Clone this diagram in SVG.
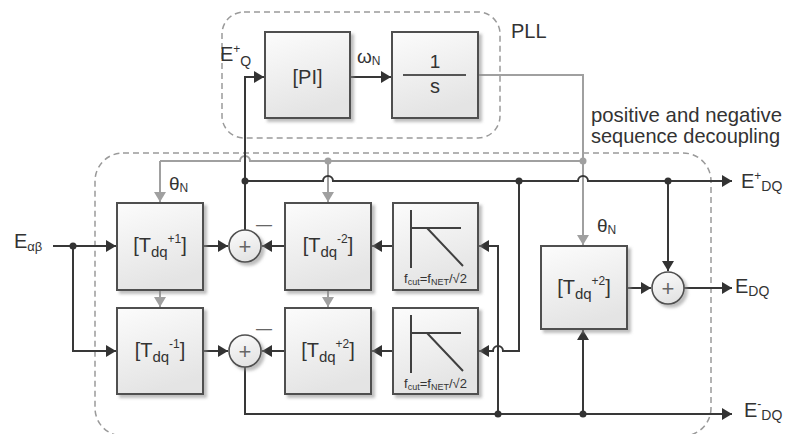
<svg xmlns="http://www.w3.org/2000/svg" width="788" height="434" viewBox="0 0 788 434">
<defs>
<linearGradient id="bg" x1="0" y1="0" x2="0.3" y2="1">
<stop offset="0" stop-color="#fcfcfc"/>
<stop offset="1" stop-color="#e4e4e4"/>
</linearGradient>
<filter id="sh" x="-20%" y="-20%" width="150%" height="150%">
<feDropShadow dx="3" dy="3" stdDeviation="1.5" flood-color="#888" flood-opacity="0.55"/>
</filter>
<marker id="ab" markerUnits="userSpaceOnUse" markerWidth="11" markerHeight="12" refX="10" refY="6" orient="auto">
<path d="M0,0 L10,6 L0,12 z" fill="#333"/>
</marker>
<marker id="ag" markerUnits="userSpaceOnUse" markerWidth="11" markerHeight="12" refX="10" refY="6" orient="auto">
<path d="M0,0 L10,6 L0,12 z" fill="#a0a0a0"/>
</marker>
</defs>
<style>
.box{fill:url(#bg);stroke:#505050;stroke-width:2;filter:url(#sh)}
.sum{fill:url(#bg);stroke:#505050;stroke-width:1.6;filter:url(#sh)}
.dash{fill:none;stroke:#9a9a9a;stroke-width:1.5;stroke-dasharray:6 4}
.bl{fill:none;stroke:#383838;stroke-width:2}
.gr{fill:none;stroke:#a0a0a0;stroke-width:2}
.ba{marker-end:url(#ab)}
.ga{marker-end:url(#ag)}
.dot{fill:#333}
.gdot{fill:#a0a0a0}
text{font-family:"Liberation Sans",Arial,sans-serif;fill:#333}
.lbl{font-size:20px}
.bt{font-size:20px;text-anchor:middle}
.ft{font-size:13px;text-anchor:middle}
.pl{font-size:22px;fill:#666;text-anchor:middle}
.mn{font-size:16px;fill:#666}
.inner{stroke:#404040;stroke-width:2;fill:none}
</style>

<!-- dashed groupings -->
<g id="pll-frame">
<rect class="dash" x="222" y="12" width="278" height="126" rx="22"/>
<text class="lbl" x="511" y="38">PLL</text>
</g>
<g id="decoupling-frame">
<rect class="dash" x="95" y="153" width="616" height="283" rx="28"/>
<text font-size="21" x="591" y="122" textLength="191" lengthAdjust="spacingAndGlyphs">positive and negative</text>
<text font-size="21" x="591" y="143" textLength="189" lengthAdjust="spacingAndGlyphs">sequence decoupling</text>
</g>

<!-- connectors -->
<g id="connectors">
<path class="gr" d="M160,161 H240 A5,5 0 0 1 250,161 H583 V75 H478"/>
<path class="gr ga" d="M160,161 V202"/>
<path class="gr ga" d="M328,161 V202"/>
<path class="gr ga" d="M583,161 V245"/>
<path class="gr ga" d="M160,291 V307"/>
<path class="gr ga" d="M328,291 V307"/>
<circle class="gdot" cx="328" cy="161" r="3.5"/>
<circle class="gdot" cx="583" cy="161" r="3.5"/>

<path class="bl ba" d="M245,230 V77 H264"/>
<path class="bl ba" d="M350,77 H391"/>
<path class="bl ba" d="M245,181 H323 A5,5 0 0 1 333,181 H578 A5,5 0 0 1 588,181 H732"/>
<path class="bl ba" d="M53,246 H116"/>
<path class="bl ba" d="M73,246 V351 H116"/>
<path class="bl ba" d="M203,246 H228"/>
<path class="bl ba" d="M203,351 H228"/>
<path class="bl ba" d="M285,246 H262"/>
<path class="bl ba" d="M285,351 H262"/>
<path class="bl ba" d="M393,246 H372"/>
<path class="bl ba" d="M393,351 H372"/>
<path class="bl ba" d="M498,414 V246 H479"/>
<path class="bl ba" d="M519,181 V351 H503 A5,5 0 0 0 493,351 H479"/>
<path class="bl ba" d="M245,367 V414 H732"/>
<path class="bl ba" d="M583,414 V330"/>
<path class="bl ba" d="M627,288 H651"/>
<path class="bl ba" d="M668,181 V271"/>
<path class="bl ba" d="M684,288 H732"/>
<circle class="dot" cx="73" cy="246" r="3.5"/>
<circle class="dot" cx="245" cy="181" r="3.5"/>
<circle class="dot" cx="519" cy="181" r="3.5"/>
<circle class="dot" cx="668" cy="181" r="3.5"/>
<circle class="dot" cx="498" cy="414" r="3.5"/>
<circle class="dot" cx="583" cy="414" r="3.5"/>
</g>

<!-- PLL nodes -->
<g id="pi">
<rect class="box" x="265" y="32" width="85" height="86"/>
<text class="bt" x="307.5" y="84">[PI]</text>
</g>
<g id="integrator">
<rect class="box" x="392" y="32" width="86" height="86"/>
<text class="bt" x="435" y="68" style="font-size:19px">1</text>
<line x1="403" y1="75" x2="466" y2="75" stroke="#555" stroke-width="2"/>
<text class="bt" x="435" y="93">s</text>
</g>

<!-- decoupling nodes -->
<g id="tdq-p1">
<rect class="box" x="117" y="203" width="86" height="87"/>
<text class="bt" x="160" y="252">[T<tspan font-size="15" dy="5">dq</tspan><tspan font-size="12" dy="-14">+1</tspan><tspan dy="9">]</tspan></text>
</g>
<g id="tdq-m1">
<rect class="box" x="117" y="308" width="86" height="86"/>
<text class="bt" x="160" y="357">[T<tspan font-size="15" dy="5">dq</tspan><tspan font-size="12" dy="-14">-1</tspan><tspan dy="9">]</tspan></text>
</g>
<g id="sum-top">
<circle class="sum" cx="245" cy="246" r="16"/>
<text class="pl" x="245" y="254">+</text>
<text class="mn" x="256" y="230">—</text>
</g>
<g id="sum-bottom">
<circle class="sum" cx="245" cy="351" r="16"/>
<text class="pl" x="245" y="359">+</text>
<text class="mn" x="256" y="334">—</text>
</g>
<g id="tdq-m2">
<rect class="box" x="285" y="203" width="86" height="87"/>
<text class="bt" x="328" y="252">[T<tspan font-size="15" dy="5">dq</tspan><tspan font-size="12" dy="-14">-2</tspan><tspan dy="9">]</tspan></text>
</g>
<g id="tdq-p2-left">
<rect class="box" x="285" y="308" width="86" height="86"/>
<text class="bt" x="328" y="357">[T<tspan font-size="15" dy="5">dq</tspan><tspan font-size="12" dy="-14">+2</tspan><tspan dy="9">]</tspan></text>
</g>
<g id="filter-top">
<rect class="box" x="393" y="203" width="85" height="87"/>
<path class="inner" d="M411,210 V268 M411,228 H461 M427,228 L463,266"/>
<text class="ft" x="435.5" y="283">f<tspan font-size="9" dy="2">cut</tspan><tspan dy="-2">=f</tspan><tspan font-size="9" dy="2">NET</tspan><tspan dy="-2">/√2</tspan></text>
</g>
<g id="filter-bottom">
<rect class="box" x="393" y="308" width="85" height="86"/>
<path class="inner" d="M411,315 V373 M411,333 H461 M427,333 L463,371"/>
<text class="ft" x="435.5" y="388">f<tspan font-size="9" dy="2">cut</tspan><tspan dy="-2">=f</tspan><tspan font-size="9" dy="2">NET</tspan><tspan dy="-2">/√2</tspan></text>
</g>
<g id="tdq-p2-right">
<rect class="box" x="541" y="246" width="86" height="83"/>
<text class="bt" x="584" y="294">[T<tspan font-size="15" dy="5">dq</tspan><tspan font-size="12" dy="-14">+2</tspan><tspan dy="9">]</tspan></text>
</g>
<g id="sum-right">
<circle class="sum" cx="668" cy="288" r="16"/>
<text class="pl" x="668" y="296">+</text>
</g>

<!-- labels -->
<g id="labels">
<text class="lbl" x="14" y="248">E<tspan font-size="13" dy="3">αβ</tspan></text>
<text class="lbl" x="220" y="61">E<tspan font-size="12" dy="-8">+</tspan><tspan font-size="14" dy="13">Q</tspan></text>
<text font-size="19" x="357" y="63">ω<tspan font-size="12" dy="2">N</tspan></text>
<text font-size="19" x="169" y="190">θ<tspan font-size="12" dy="2">N</tspan></text>
<text font-size="19" x="597" y="232">θ<tspan font-size="12" dy="2">N</tspan></text>
<text class="lbl" x="741" y="188">E<tspan font-size="12" dy="-8">+</tspan><tspan font-size="14" dy="11">DQ</tspan></text>
<text class="lbl" x="735" y="293">E<tspan font-size="14" dy="3">DQ</tspan></text>
<text class="lbl" x="744" y="417">E<tspan font-size="12" dy="-9">-</tspan><tspan font-size="14" dy="12">DQ</tspan></text>
</g>
</svg>
